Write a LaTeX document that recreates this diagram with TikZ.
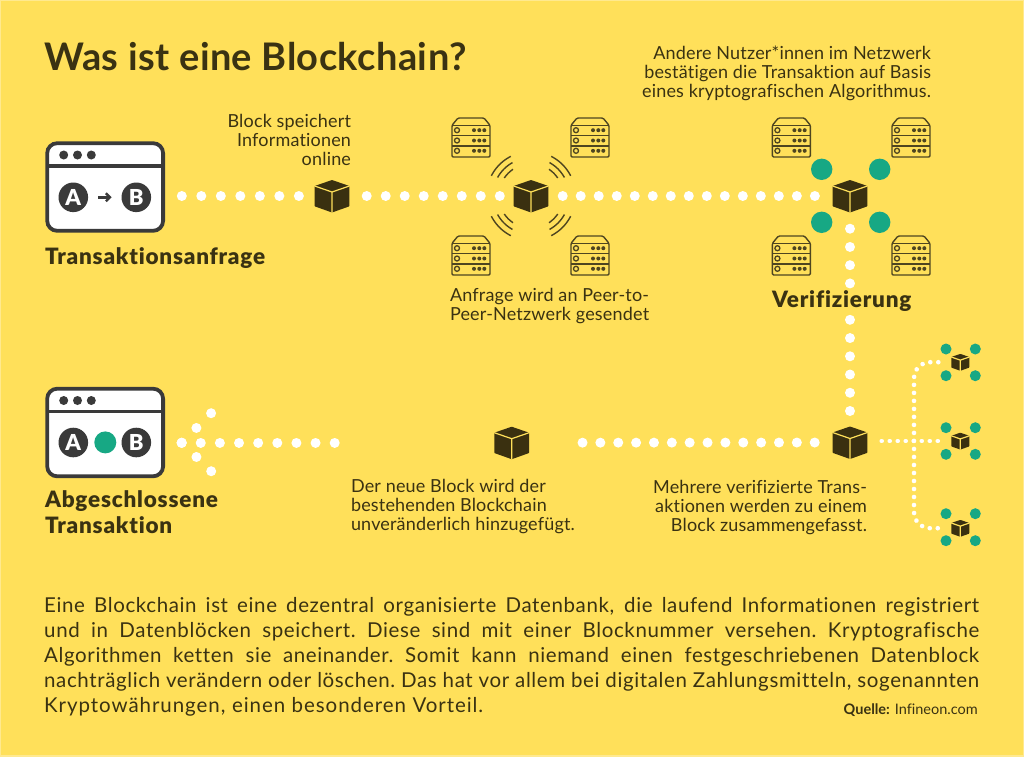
\documentclass[tikz,border=0pt]{standalone}
\usepackage{fontspec}
\usetikzlibrary{arrows.meta}
\setmainfont[Ligatures=NoCommon]{Lato}
\newfontfamily\titlef[Ligatures=NoCommon,LetterSpace=1.1]{Lato}
\newfontfamily\txt[Ligatures=NoCommon,LetterSpace=1]{Lato}
\newfontfamily\bodyf[Ligatures=NoCommon,LetterSpace=3]{Lato}
\newfontfamily\bodyg[Ligatures=NoCommon,LetterSpace=4.6]{Lato}
\newfontfamily\headf[Ligatures=NoCommon,LetterSpace=3.5]{Lato Black}
\newfontfamily\capf[Ligatures=NoCommon]{Lato Black}
\definecolor{bg}{HTML}{FFE05A}
\definecolor{edge}{HTML}{FFE98F}
\definecolor{ink}{HTML}{3A3212}
\definecolor{cubec}{HTML}{3A3010}
\definecolor{sv}{HTML}{4E4520}
\definecolor{win}{HTML}{3A3A3A}
\definecolor{grn}{HTML}{17A884}
\tikzset{
 x=1pt,y=-1pt,
 bigdots/.style={draw=white,line width=10pt,line cap=round},
 smalldots/.style={draw=white,line width=4.6pt,line cap=round,dash pattern=on 0.01pt off 8pt},
 cubenode/.style={inner sep=0pt,outer sep=0pt,minimum width=35pt,minimum height=32pt},
 smallcube/.style={inner sep=0pt,outer sep=0pt,minimum width=18pt,minimum height=16pt},
 winbox/.style={draw=win,fill=white,line width=3.8pt,rounded corners=10pt,minimum width=115.9pt,minimum height=87.6pt,inner sep=0pt,outer sep=0pt},
 abc/.style={circle,fill=win,text=white,minimum size=29.6pt,inner sep=0pt,font=\fontsize{22}{22}\selectfont\capf},
 lbl/.style={inner sep=0pt,outer sep=0pt,text=ink,font=\fontsize{18}{19}\selectfont\txt},
 head/.style={inner sep=0pt,outer sep=0pt,text=ink,font=\fontsize{22.5}{26}\selectfont\headf},
 greendot/.style={fill=grn},
 cube/.pic={
  \fill[cubec,rounded corners=0.6pt] (0,-16) -- (17.4,-10) -- (17.4,10.3) -- (0,16.5) -- (-17.4,10.3) -- (-17.4,-10) -- cycle;
  \draw[bg,line width=1.2pt] (-17.4,-10) -- (0,-4) -- (17.4,-10) (0,-4) -- (0,16.5);
 },
 server/.pic={
  \draw[sv,line width=1.4pt,rounded corners=1.2pt] (0,7.3) -- (6,0) -- (32,0) -- (38,7.3) -- (38,39) -- (0,39) -- cycle;
  \draw[sv,line width=1.4pt] (0,7.3) -- (38,7.3) (0,17.5) -- (38,17.5) (0,27.8) -- (38,27.8);
  \foreach \yy in {12.2,22.5,32.8}{
   \draw[sv,line width=1.3pt] (5,\yy) circle[radius=2.5];
   \foreach \xx in {22,27.3,32.3}{\fill[sv] (\xx,\yy) circle[radius=2];}
  }
 }
}
\newcommand{\wavearc}[2]{% radius, half-angle
 \foreach \qa in {45,135,225,315}{
  \draw[sv,line width=1.4pt] plot[domain={\qa-#2}:{\qa+#2},samples=14,smooth] ({531+#1*cos(\x)},{196+#1*sin(\x)});
 }}
\newcommand{\jline}[2]{\hbox to #1{\spaceskip=.28em plus 1fil minus .1em\xspaceskip=\spaceskip #2}\par}
\begin{document}
\begin{tikzpicture}
\useasboundingbox (0,0) rectangle (1024,756);
\fill[bg] (0,0) rectangle (1024,756);
\draw[edge,line width=1.4pt] (0,0) rectangle (1024,756);

% title
\node[inner sep=0pt,anchor=base west,text=ink,font=\fontsize{38}{38}\selectfont\titlef\bfseries] (title) at (44,70.5) {Was ist eine Blockchain?};

% windows
\node[winbox] (w1) at (105.15,187) {};
\node[winbox] (w2) at (105.15,432.5) {};
\foreach \dy/\wn in {0/w1,245.5/w2}{
 \draw[win,line width=3.5pt] (47.2,166+\dy) -- (163.1,166+\dy);
 \foreach \xx in {63.7,77.5,91.3}{\fill[win] (\xx,155+\dy) circle[radius=4.5];}
}
\node[abc] (a1) at (73.3,197.3) {A};
\node[abc] (b1) at (136.3,197.3) {B};
\draw[win,line width=2.4pt,-{Straight Barb[length=4pt,width=8pt]},shorten <=9.7pt,shorten >=9.7pt] (a1) -- (b1);
\node[abc] (a2) at (73.3,442.5) {A};
\node[abc] (b2) at (136.3,442.5) {B};
\node[circle,fill=grn,minimum size=22pt,inner sep=0pt] (g2) at (105.3,442.4) {};

% headings placed first so the dotted line can stop at them
\node[head,anchor=base west] (ha) at (45,264) {Transaktionsanfrage};
\node[head,anchor=base west] (hb) at (772,307.5) {Verifizierung};
\node[head,align=left,anchor=north west] (hc) at (45,491) {Abgeschlossene\\Transaktion};

% cube anchors
\node[cubenode] (c1) at (332,196) {};
\node[cubenode] (c2) at (531,196) {};
\node[cubenode] (c3) at (850,196) {};
\node[cubenode] (c4) at (850,442.5) {};
\node[cubenode] (c5) at (511.7,442.7) {};
\node[smallcube] (s1) at (960.3,362.2) {};
\node[smallcube] (s2) at (960.3,441) {};
\node[smallcube] (s3) at (960.3,528.2) {};
\coordinate (tip) at (181.7,442.7);
\coordinate (h1) at (211.3,413);
\coordinate (h2) at (211.3,471.3);

% dotted connectors
\draw[bigdots,dash pattern=on 0.01pt off 19.5pt,shorten <=18.7pt,shorten >=15pt] (w1.east |- c1.west) -- (c1.west);
\draw[bigdots,dash pattern=on 0.01pt off 19pt,shorten <=17.2pt,shorten >=13pt] (c1.east) -- (c2.west);
\draw[bigdots,dash pattern=on 0.01pt off 18pt,shorten <=14.2pt,shorten >=17pt] (c2.east) -- (c3.west);
\draw[bigdots,dash pattern=on 0.01pt off 18.23pt,shorten <=16.7pt] (c3.south) -- (c3.south |- hb.north);
\draw[bigdots,dash pattern=on 0.01pt off 18.23pt,shorten <=15.5pt] (c4.north) -- (c4.north |- hb.south);
\draw[bigdots,dash pattern=on 0.01pt off 17.85pt,shorten <=17.8pt,shorten >=52pt] (c4.west) -- (c5.east);
\draw[bigdots,dash pattern=on 0.01pt off 19.125pt,shorten <=159.5pt,shorten >=18.5pt] (c5.west) -- (w2.east |- c5.west);
\draw[bigdots,dash pattern=on 0.01pt off 20.8pt] (tip) -- (h1);
\draw[bigdots,dash pattern=on 0.01pt off 20.5pt] (tip) -- (h2);
\draw[smalldots,shorten <=14.2pt,shorten >=12.5pt] (c4.east |- s2.west) -- (s2.west);
\draw[smalldots,rounded corners=16pt,shorten <=13pt,shorten >=12.5pt] (s1.west) -- (914,362.2) -- (914,528.2) -- (s3.west);

% cubes
\pic at (c1) {cube};
\pic at (c2) {cube};
\pic at (c3) {cube};
\pic at (c4) {cube};
\pic at (c5) {cube};
\pic[scale=0.52] at (s1) {cube};
\pic[scale=0.52] at (s2) {cube};
\pic[scale=0.52] at (s3) {cube};

% green dots
\foreach \xx in {821.7,879.7}{\foreach \yy in {169.3,222.3}{\fill[greendot] (\xx,\yy) circle[radius=10.7];}}
\foreach \yy in {349,375.7,427.7,454.3,513.7,540.7}{
 \fill[greendot] (946,\yy) circle[radius=5.5];
 \fill[greendot] (975.3,\yy) circle[radius=5.5];
}

% servers
\foreach \xx in {452,571,772.4,892}{
 \pic at (\xx,118) {server};
 \pic at (\xx,236) {server};
}
% waves
\wavearc{44.5}{18}
\wavearc{38.2}{16}
\wavearc{32.2}{11}

% labels
\node[lbl,align=right,anchor=base east] (t1) at (351,165) {Block speichert\\Informationen\\online};
\node[lbl,align=right,anchor=north east] (t2) at (931,45.5) {Andere Nutzer*innen im Netzwerk\\bestätigen die Transaktion auf Basis\\eines kryptografischen Algorithmus.};
\node[lbl,align=left,anchor=north west] (t3) at (450,288) {Anfrage wird an Peer-to-\\Peer-Netzwerk gesendet};
\node[lbl,align=left,anchor=north west] (t4) at (351,479) {Der neue Block wird der\\bestehenden Blockchain\\unveränderlich hinzugefügt.};
\node[lbl,align=right,anchor=north east] (t5) at (867,480.5) {Mehrere verifizierte Trans-\\aktionen werden zu einem\\Block zusammengefasst.};

% body
\node[inner sep=0pt,anchor=north west,text width=935pt,text=ink,font=\fontsize{20.5}{25}\selectfont\bodyf] (body) at (44,597.5) {%
\jline{935pt}{Eine Blockchain ist eine dezentral organisierte Datenbank, die laufend Informationen registriert}
\jline{935pt}{und in Datenblöcken speichert. Diese sind mit einer Blocknummer versehen. Kryptografische}
\jline{935pt}{Algorithmen ketten sie aneinander. Somit kann niemand einen festgeschriebenen Datenblock}
\jline{935pt}{nachträglich verändern oder löschen. Das hat vor allem bei digitalen Zahlungsmitteln, sogenannten}
\jline{439pt}{\bodyg Kryptowährungen, einen besonderen Vorteil.}};
\node[inner sep=0pt,anchor=base east,text=ink,font=\fontsize{14.5}{14.5}\selectfont] (src) at (978,714.5) {\textbf{Quelle:} Infineon.com};
\end{tikzpicture}
\end{document}
